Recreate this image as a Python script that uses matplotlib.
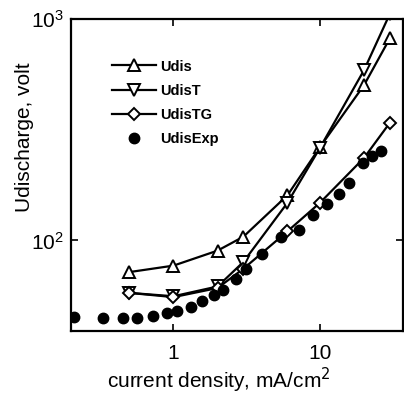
import numpy as np, matplotlib
matplotlib.use("Agg")
import matplotlib.pyplot as plt
from matplotlib.ticker import NullLocator, FixedLocator, FixedFormatter

plt.rcParams["font.family"] = ["Liberation Sans", "DejaVu Sans"]

# calculated curves (current density, mA/cm^2 -> voltage, V)
j_calc = [0.5, 1, 2, 3, 6, 10, 20, 30]
u_dis = [72, 77, 90, 104, 160, 264, 503, 818]
u_dis_t = [58, 56, 62, 80, 148, 262, 588, 1055]
u_dis_tg = [58, 55.5, 61, 74.5, 110, 148, 236, 340]

# experimental points
j_exp = [0.21, 0.33, 0.45, 0.56, 0.72, 0.9, 1.05, 1.31, 1.57, 1.88, 2.18, 2.69,
         3.15, 4.05, 5.45, 7.2, 9.0, 11.1, 13.4, 15.8, 19.8, 22.8, 26.2]
u_exp = [45.3, 44.5, 44.5, 44.6, 45.4, 47.1, 48.2, 50.3, 53.1, 57, 59.8, 67,
         74, 87, 103.5, 112, 131, 146, 162, 182, 223, 240, 253]

fig = plt.figure(figsize=(4.04, 3.96), dpi=100)
ax = fig.add_axes([0.176, 0.164, 0.822, 0.788])

kw = dict(color="black", lw=1.6, ms=8, mfc="white", mec="black", mew=1.4)
ax.plot(j_calc, u_dis, marker="^", label="Udis", **kw)
ax.plot(j_calc, u_dis_t, marker="v", label="UdisT", **kw)
ax.plot(j_calc, u_dis_tg, marker="D", label="UdisTG", **dict(kw, ms=6.5))
ax.plot(j_exp, u_exp, "o", color="black", ms=7.5, label="UdisExp")

ax.set_xscale("log"); ax.set_yscale("log")
ax.set_xlim(0.2, 37); ax.set_ylim(39, 1000)
ax.xaxis.set_major_locator(FixedLocator([1, 10]))
ax.xaxis.set_major_formatter(FixedFormatter(["1", "10"]))
ax.xaxis.set_minor_locator(NullLocator())
ax.yaxis.set_minor_locator(NullLocator())
ax.tick_params(direction="in", length=5, width=1.2, top=True, right=True, labelsize=15)
ax.tick_params(axis="x", pad=9)
ax.tick_params(axis="y", pad=5)
for s in ax.spines.values():
    s.set_linewidth(1.6)

ax.set_xlabel("current density, mA/cm$^2$", fontsize=15)
ax.set_ylabel("Udischarge, volt", fontsize=15)
ax.xaxis.set_label_coords(0.446, -0.11)
ax.yaxis.set_label_coords(-0.113, 0.62)

leg = ax.legend(loc="upper left", bbox_to_anchor=(0.085, 0.912), frameon=False, fontsize=10.5,
                handlelength=3, numpoints=1, labelspacing=0.7, handletextpad=0.3)
for t in leg.get_texts():
    t.set_fontweight("bold")

plt.savefig("out.png", dpi=100)
